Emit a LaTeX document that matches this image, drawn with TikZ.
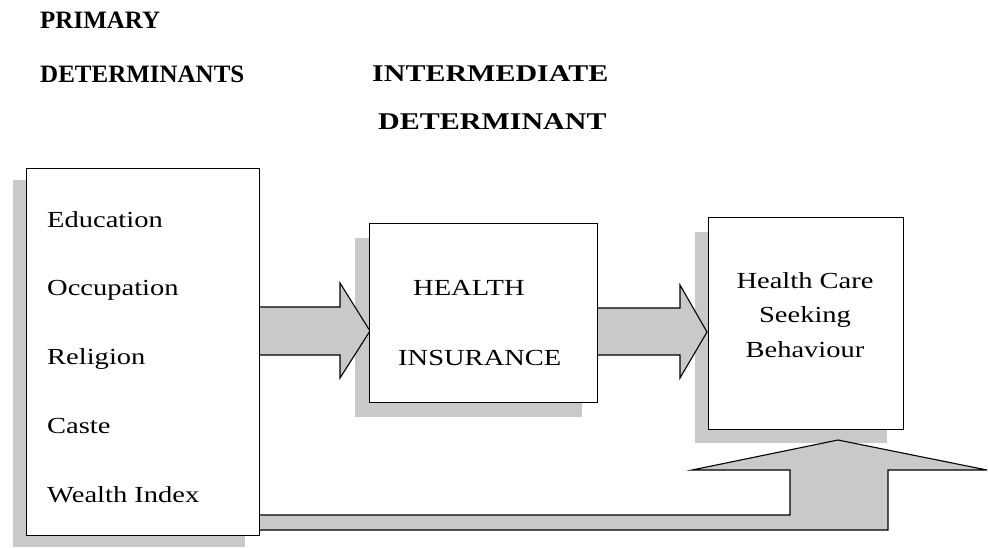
\documentclass[tikz,border=0pt]{standalone}
\usepackage{fontspec}
\setmainfont[FakeStretch=1.24]{Liberation Serif}
\newfontfamily\plainserif{Liberation Serif}
\newfontfamily\wideserif[FakeStretch=1.25]{Liberation Serif}
\tikzset{
  shadowfill/.style={fill=gray!42, draw=none},
  boxstyle/.style={draw=black, line width=1.3pt, fill=white},
  blockarrow/.style={draw=black, line width=1.1pt, fill=gray!42, line join=miter},
  item/.style={anchor=base west, inner sep=0pt, font=\fontsize{23}{27}\selectfont},
  ctr/.style={anchor=base, inner sep=0pt, font=\fontsize{23}{27}\selectfont},
  headA/.style={anchor=base west, inner sep=0pt, font=\plainserif\fontsize{25}{29}\selectfont\bfseries},
  headB/.style={anchor=base west, inner sep=0pt, font=\wideserif\fontsize{24}{28}\selectfont\bfseries}
}
\begin{document}
\begin{tikzpicture}[x=1pt, y=-1pt]
\useasboundingbox (0,0) rectangle (988,547);
% headings
\node[headA] (h1) at (40,28) {PRIMARY};
\node[headA] (h2) at (40,82) {DETERMINANTS};
\node[headB] (h3) at (372,81) {INTERMEDIATE};
\node[headB] (h4) at (378,129) {DETERMINANT};
% shadows
\fill[shadowfill] (13,180) rectangle (245,547);
\fill[shadowfill] (355,238) rectangle (582,417);
\fill[shadowfill] (695,232) rectangle (887,443);
% block arrows
\draw[blockarrow] (259,307) -- (340,307) -- (340,283) -- (370,331) -- (340,378) -- (340,355) -- (259,355);
\draw[blockarrow] (597,308) -- (680,308) -- (680,285) -- (707,332) -- (680,378) -- (680,355) -- (597,355);
\draw[blockarrow] (259,515) -- (790,515) -- (790,470) -- (692,470) -- (838,440) -- (987,470) -- (888,470) -- (888,530) -- (259,530);
% boxes
\node[boxstyle, minimum width=233pt, minimum height=367pt, anchor=north west, inner sep=0pt] (A) at (26,168) {};
\node[boxstyle, minimum width=228pt, minimum height=179pt, anchor=north west, inner sep=0pt] (B) at (369,223) {};
\node[boxstyle, minimum width=195pt, minimum height=212pt, anchor=north west, inner sep=0pt] (C) at (708,217) {};
% left box text
\node[item] (t1) at (47,227) {Education};
\node[item] (t2) at (47,295) {Occupation};
\node[item] (t3) at (47,364) {Religion};
\node[item] (t4) at (47,433) {Caste};
\node[item] (t5) at (47,502) {Wealth Index};
% middle box text
\node[item] (m1) at (413,295) {HEALTH};
\node[item] (m2) at (398,365) {INSURANCE};
% right box text
\node[ctr] (r1) at (805,288) {Health Care};
\node[ctr] (r2) at (805,322) {Seeking};
\node[ctr] (r3) at (805,357) {Behaviour};
\end{tikzpicture}
\end{document}
